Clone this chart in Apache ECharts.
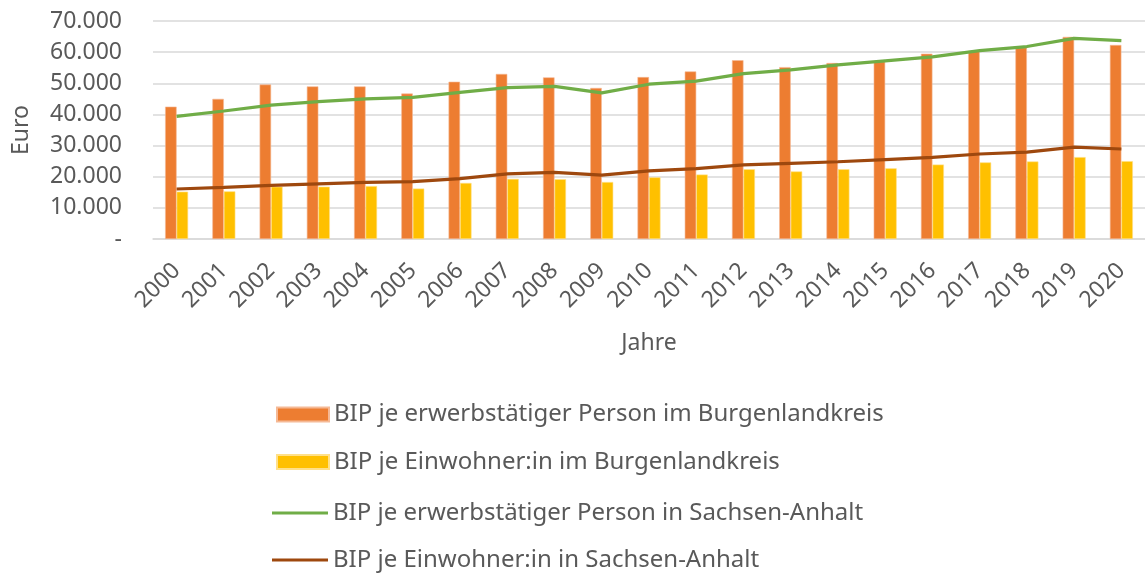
<!DOCTYPE html>
<html><head><meta charset="utf-8">
<script src="https://cdn.jsdelivr.net/npm/echarts@6/dist/echarts.min.js"></script>
<style>html,body{margin:0;padding:0;background:#fff}#c{width:1145px;height:573px}</style>
</head><body><div id="c"></div>
<script>
const years = ['2000','2001','2002','2003','2004','2005','2006','2007','2008','2009','2010','2011','2012','2013','2014','2015','2016','2017','2018','2019','2020'];
const bipErwerbBLK = [42500,45000,49600,49000,49000,46700,50500,53000,51900,48500,52000,53800,57400,55200,56500,57000,59500,60400,61500,64900,62300];
const bipEinwBLK = [15200,15300,16800,16800,17000,16200,18000,19300,19200,18300,19800,20700,22400,21700,22400,22700,23900,24600,24900,26300,25000];
const bipErwerbSA = [39400,41100,43000,44100,45000,45500,47100,48600,49000,46900,49700,50700,53100,54300,55900,57200,58500,60500,61800,64400,63700];
const bipEinwSA = [16050,16600,17200,17700,18200,18400,19400,20900,21400,20500,21900,22600,23800,24300,24800,25500,26200,27300,27900,29500,28900];
const names = ['BIP je erwerbstätiger Person im Burgenlandkreis','BIP je Einwohner:in im Burgenlandkreis','BIP je erwerbstätiger Person in Sachsen-Anhalt','BIP je Einwohner:in in Sachsen-Anhalt'];

const font = 'Noto Sans';
const txt = '#595959';
const legText = {color:txt,fontSize:24,fontFamily:font,lineHeight:28};
const chart = echarts.init(document.getElementById('c'));
chart.setOption({
  animation:false,
  textStyle:{fontFamily:font},
  grid:{left:153,right:0,top:21,bottom:334,containLabel:false},
  xAxis:{type:'category',data:years,
    axisLine:{lineStyle:{color:'#d9d9d9',width:1.5}},axisTick:{show:false},
    axisLabel:{rotate:45,color:txt,fontSize:23,fontFamily:font,margin:28,interval:0},
    name:'Jahre',nameLocation:'middle',nameGap:104,nameTextStyle:{color:txt,fontSize:23,fontFamily:font,verticalAlign:'middle'}},
  yAxis:{type:'value',min:0,max:70000,interval:10000,
    axisLine:{show:false},axisTick:{show:false},
    splitLine:{lineStyle:{color:'#d9d9d9',width:1.5}},
    axisLabel:{color:txt,fontSize:23,fontFamily:font,margin:31,
      formatter:v=>v===0?'-':(v/1000).toFixed(0)+'.000'},
    name:'Euro',nameLocation:'middle',nameGap:132,nameRotate:90,nameTextStyle:{color:txt,fontSize:23,fontFamily:font,verticalAlign:'middle'}},
  legend:[
    {orient:'vertical',left:271,top:395.5,height:120,itemGap:19.5,itemWidth:52,itemHeight:14,icon:'rect',
      textStyle:legText,data:[names[0],names[1]]},
    {orient:'vertical',left:267,top:494,height:120,itemGap:19,itemWidth:56,itemHeight:3,icon:'rect',
      textStyle:legText,data:[names[2],names[3]]}
  ],
  series:[
    {name:names[0],type:'bar',data:bipErwerbBLK,barWidth:11.5,barGap:'0%',
      itemStyle:{color:'#ED7D31',borderColor:'#F5B995',borderWidth:0.6}},
    {name:names[1],type:'bar',data:bipEinwBLK,barWidth:11.5,barGap:'0%',
      itemStyle:{color:'#FFC000',borderColor:'#FFE08A',borderWidth:0.6}},
    {name:names[2],type:'line',data:bipErwerbSA,symbol:'none',
      lineStyle:{color:'#70AD47',width:3.2},itemStyle:{color:'#70AD47'}},
    {name:names[3],type:'line',data:bipEinwSA,symbol:'none',
      lineStyle:{color:'#9E480E',width:3.2},itemStyle:{color:'#9E480E'}}
  ]
});
</script></body></html>
